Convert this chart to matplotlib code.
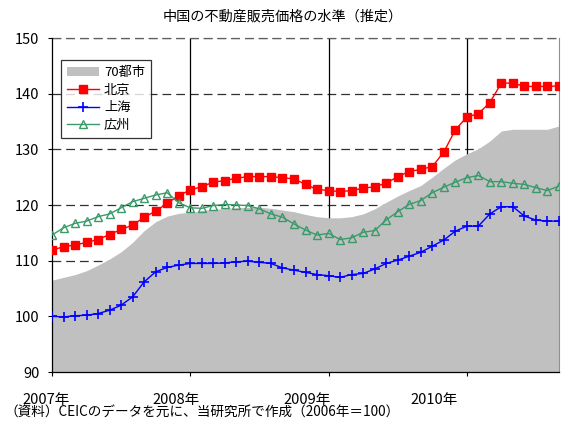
import matplotlib
matplotlib.use("Agg")
import matplotlib.pyplot as plt
import numpy as np

plt.rcParams["font.family"] = ["Noto Sans CJK JP", "DejaVu Sans"]

# monthly index values, Jan 2007 - Sep 2010 (2006 = 100)
cities70 = [106.5, 107.0, 107.5, 108.2, 109.2, 110.3, 111.6, 113.3, 115.4, 117.0,
            118.0, 118.5, 118.7, 119.0, 119.2, 119.4, 119.5, 119.6, 119.6, 119.4,
            119.1, 118.8, 118.3, 117.9, 117.7, 117.7, 117.9, 118.4, 119.3, 120.5,
            121.6, 122.6, 123.5, 125.0, 126.6, 128.1, 129.2, 130.1, 131.5, 133.3,
            133.6, 133.6, 133.6, 133.6, 134.2]
beijing = [111.9, 112.5, 112.8, 113.3, 113.8, 114.7, 115.6, 116.4, 117.8, 118.9,
           120.3, 121.7, 122.7, 123.3, 124.1, 124.4, 124.8, 125.1, 125.1, 125.1,
           124.9, 124.7, 123.7, 122.8, 122.6, 122.4, 122.6, 123.0, 123.3, 123.9,
           125.1, 126.0, 126.4, 126.9, 129.5, 133.5, 135.8, 136.4, 138.4, 141.9,
           141.9, 141.3, 141.3, 141.3, 141.4]
shanghai = [100.0, 99.9, 100.1, 100.2, 100.5, 101.1, 102.0, 103.5, 106.2, 108.0,
            108.8, 109.2, 109.5, 109.5, 109.5, 109.6, 109.8, 109.9, 109.7, 109.5,
            108.7, 108.3, 107.9, 107.5, 107.3, 107.0, 107.5, 107.7, 108.5, 109.5,
            110.1, 110.8, 111.5, 112.6, 113.7, 115.3, 116.2, 116.2, 118.4, 119.7,
            119.7, 118.0, 117.3, 117.1, 117.1]
guangzhou = [114.6, 115.9, 116.7, 117.1, 117.9, 118.4, 119.5, 120.6, 121.2, 121.8,
             122.2, 120.4, 119.5, 119.4, 119.9, 120.1, 120.0, 119.9, 119.3, 118.4,
             117.8, 116.6, 115.5, 114.6, 114.9, 113.8, 114.1, 115.1, 115.4, 117.3,
             118.8, 120.1, 120.8, 122.2, 123.2, 124.1, 124.9, 125.3, 124.2, 124.2,
             123.9, 123.7, 123.1, 122.6, 123.4]
years = ["2007年", "2008年", "2009年", "2010年"]
yticks = [90, 100, 110, 120, 130, 140, 150]

title = "中国の不動産販売価格の水準（推定）"
note = "（資料）CEICのデータを元に、当研究所で作成（2006年＝100）"

months = np.arange(len(beijing))

fig = plt.figure(figsize=(5.61, 4.23), dpi=100)
ax = fig.add_axes([52 / 561, 1 - 372 / 423, 507 / 561, 334 / 423])

# grid underneath the area
for y in yticks[2:]:
    ax.axhline(y, color="#303030", lw=0.9, ls=(0, (7, 4)), zorder=0)
for m in (12, 24, 36):
    ax.axvline(m, color="black", lw=0.9, zorder=0)

ax.fill_between(months, 90, cities70, color="#c0c0c0", lw=0, zorder=1, label="70都市")
ax.plot(months, beijing, color="#ff0000", lw=1, marker="s", ms=5.5, zorder=3, label="北京")
ax.plot(months, shanghai, color="#0000ff", lw=1, marker="+", ms=7.5, mew=1.2, zorder=3,
        label="上海")
ax.plot(months, guangzhou, color="#3a9a6a", lw=1, marker="^", ms=5.5, mfc="none",
        mew=1, zorder=3, label="広州")

ax.set_xlim(0, len(beijing) - 1)
ax.set_ylim(90, 150)
ax.set_yticks(yticks)
ax.set_xticks([0, 12, 24, 36])
ax.set_xticklabels([])
ax.tick_params(axis="both", direction="out", length=3, width=0.8, labelsize=10.5)
ax.tick_params(axis="y", pad=6)
for lab_x, lab in zip([-0.5, 10.8, 22.1, 33.2], years):
    ax.text(lab_x, -0.062, lab, transform=ax.get_xaxis_transform(), ha="center",
            va="top", fontsize=10.5)

for side in ("left", "bottom"):
    ax.spines[side].set_color("black")
    ax.spines[side].set_linewidth(0.9)
ax.spines["top"].set_visible(False)
ax.axhline(150, color="#606060", lw=0.9, ls=(0, (7, 4)), zorder=0, clip_on=False)
ax.spines["right"].set_color("#909090")

leg = ax.legend(loc="upper left", bbox_to_anchor=(0.018, 0.934), borderaxespad=0,
                fontsize=9.5, frameon=True, fancybox=False, edgecolor="black",
                handlelength=2.4, handletextpad=0.4, labelspacing=0.35,
                borderpad=0.45)
leg.get_frame().set_linewidth(0.9)

fig.text(283 / 561, 1 - 17 / 423, title, ha="center", va="center", fontsize=10.2)
fig.text(4 / 561, 1 - 413 / 423, note, ha="left", va="center", fontsize=9.8)

fig.savefig("out.png", dpi=100)
